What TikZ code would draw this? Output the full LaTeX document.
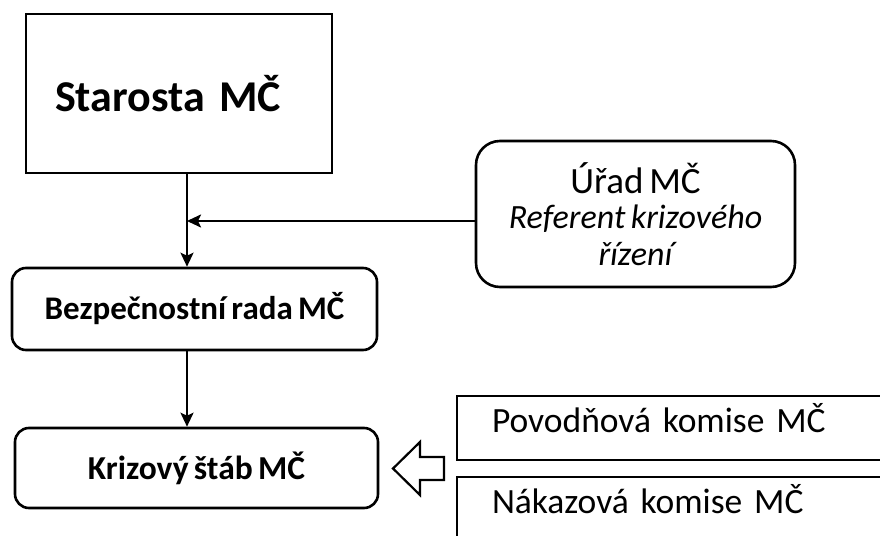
\documentclass[tikz,border=0pt]{standalone}
\usepackage{fontspec}
\setmainfont{Carlito}[WordSpace=0.7]
\usetikzlibrary{arrows.meta}

\begin{document}
\begin{tikzpicture}[x=1pt,y=-1pt,
  box/.style={draw,line width=2.6pt,inner sep=0pt},
  rbox/.style={box,rounded corners=14pt},
  kom/.style={box,minimum width=443pt,minimum height=64pt,text width=373pt,align=left,
    text height=22pt,text depth=13pt,font=\fontsize{35.5}{38}\selectfont},
  arr/.style={line width=2.2pt,-{Stealth[length=14pt,width=13pt,inset=3pt]}}]
\useasboundingbox (0,0) rectangle (880,535);
\clip (0,0) rectangle (880,535);
\node[box,minimum width=306pt,minimum height=159pt,inner xsep=29pt,text width=248pt,align=left,
  font=\fontsize{44}{48}\selectfont\bfseries] (starosta) at (179,93.5) {Starosta MČ};
\node[box,rounded corners=24pt,minimum width=319pt,minimum height=146pt,align=center,
  font=\fontsize{34}{34}\selectfont] (urad) at (635.5,214)
  {{\fontsize{37}{35}\selectfont Úřad MČ}\\[1pt] \itshape Referent krizového\\[3pt] \itshape řízení};
\node[rbox,minimum width=365pt,minimum height=82pt,font=\fontsize{33}{34}\selectfont\bfseries]
  (rada) at (194.5,309) {Bezpečnostní rada MČ};
\node[rbox,minimum width=363pt,minimum height=80pt,font=\fontsize{33.5}{34}\selectfont\bfseries]
  (stab) at (196.5,468) {Krizový štáb MČ};
\node[kom] (povoden) at (678.5,428) {Povodňová komise MČ};
\node[kom] (nakaza) at (678.5,509) {Nákazová komise MČ};
% sipky
\coordinate (join) at (187,221);
\draw[arr] (join |- starosta.south) -- (join |- rada.north);
\draw[arr] (urad.west |- join) -- (join);
\draw[arr] (join |- rada.south) -- (join |- stab.north);
% prazdna sipka od komisi
\draw[line width=2.2pt,line join=miter] (393,468.5) -- (420,442) -- (420,457) -- (444,457)
  -- (444,480) -- (420,480) -- (420,495) -- cycle;
\end{tikzpicture}
\end{document}
